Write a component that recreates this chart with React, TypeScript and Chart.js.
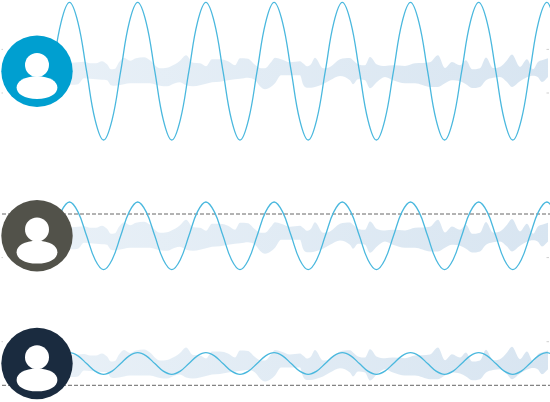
import React, { useEffect, useRef } from "react";
import { Chart, registerables } from "chart.js";

Chart.register(...registerables);

const bandX = [68,72,78,84,90,96,102,107,111,115,119,124,130,136,144,150,156,160,167,175,180,186,193,200,206,212,220,228,235,240,248,255,261,265,271,275,281,290,300,303,307,311,315,323,330,340,350,353,358,365,370,377,385,393,405,415,430,438,445,452,460,466,472,480,486,493,500,507,512,520,527,533,538,542,548];
const bandHigh = [8.5,8.5,9,9.5,8,8,10,7,2,2.5,9,13.5,10.5,13,14,11,5,3,3.5,7,10.5,16,8.5,8,5,12,12,10,6,13,12.5,6.5,3,3,9,13.5,12,9,10,8,5,7,13.5,3,4.3,12,13.3,11,7,6,14.3,6.7,5.3,6,5.3,8,9,16,3.3,9.3,6,11,2,3,13.7,3.3,4.3,11,16.7,4.3,12,2,9.3,11,13];
const bandLow = [-13.5,-13.5,-13,-7,-7.5,-8,-8.5,-9,-14,-14.5,-14,-13,-12,-12,-12,-12,-13.5,-14.5,-15,-12,-11,-14,-15,-14,-12.5,-11,-10.5,-9,-8,-7.5,-6.5,-9,-16,-18,-15.5,-12,-4,-4,-4,-13,-16.5,-16.5,-15.7,-13,-9,-4.7,-9,-13,-8,-9,-17,-10.7,-5.7,-9,-12,-12,-15.7,-15.7,-12,-9,-10,-13,-16.7,-15.7,-9,-6.5,-5.7,-10.7,-15.7,-10,-6,-4.5,-6,-10.7,-5.7];

const waveX = [52.5,61,69.5,78,86.6,95.1,103.6,112.1,120.7,129.2,137.7,146.2,154.8,163.3,171.8,180.3,188.9,197.4,205.9,214.4,223,231.5,240,248.5,257.1,265.6,274.1,282.6,291.2,299.7,308.2,316.7,325.3,333.8,342.3,350.8,359.4,367.9,376.4,384.9,393.5,402,410.5,419,427.6,436.1,444.6,453.1,461.7,470.2,478.7,487.2,495.8,504.3,512.8,521.3,529.9,538.4,546.9,555.4];
const waveLarge = [0,48.6,68.8,48.6,0,-48.6,-68.8,-48.6,0,48.6,68.8,48.6,0,-48.6,-68.8,-48.6,0,48.6,68.8,48.6,0,-48.6,-68.8,-48.6,0,48.6,68.8,48.6,0,-48.6,-68.8,-48.6,0,48.6,68.8,48.6,0,-48.6,-68.8,-48.6,0,48.6,68.8,48.6,0,-48.6,-68.8,-48.6,0,48.6,68.8,48.6,0,-48.6,-68.8,-48.6,0,48.6,68.8,48.6];
const waveMedium = [0,23.9,33.8,23.9,0,-23.9,-33.8,-23.9,0,23.9,33.8,23.9,0,-23.9,-33.8,-23.9,0,23.9,33.8,23.9,0,-23.9,-33.8,-23.9,0,23.9,33.8,23.9,0,-23.9,-33.8,-23.9,0,23.9,33.8,23.9,0,-23.9,-33.8,-23.9,0,23.9,33.8,23.9,0,-23.9,-33.8,-23.9,0,23.9,33.8,23.9,0,-23.9,-33.8,-23.9,0,23.9,33.8,23.9];
const waveSmall = [0,7.6,10.8,7.6,0,-7.6,-10.8,-7.6,0,7.6,10.8,7.6,0,-7.6,-10.8,-7.6,0,7.6,10.8,7.6,0,-7.6,-10.8,-7.6,0,7.6,10.8,7.6,0,-7.6,-10.8,-7.6,0,7.6,10.8,7.6,0,-7.6,-10.8,-7.6,0,7.6,10.8,7.6,0,-7.6,-10.8,-7.6,0,7.6,10.8,7.6,0,-7.6,-10.8,-7.6,0,7.6,10.8,7.6];

const threshold = 21.8;
const panels = ["yA", "yB", "yC"];
const panelCentres = [71.2, 235.8, 363.5];
const panelWaves = [waveLarge, waveMedium, waveSmall];
const panelColours = ["#009fd0", "#52524a", "#1a2b3f"];
// Which threshold of each panel is a full dashed rule: +1 upper, -1 lower, 0 none
const dashedSide = [0, 1, -1];

const WAVE = "#4ab8de";
const DASH = "#666666";
const STUB = "#cfcfcf";

const pts = (xs: number[], ys: number[]) => xs.map((x, i) => ({ x, y: ys[i] }));

const avatars = {
  id: "avatars",
  afterDatasetsDraw(chart: any) {
    const { ctx } = chart;
    panels.forEach((id, i) => {
      const cy = chart.scales[id].getPixelForValue(0);
      const cx = 37;
      ctx.save();
      ctx.fillStyle = panelColours[i];
      ctx.beginPath();
      ctx.arc(cx, cy, 35.7, 0, Math.PI * 2);
      ctx.fill();
      ctx.fillStyle = "#ffffff";
      ctx.beginPath();
      ctx.arc(cx, cy - 6.2, 12, 0, Math.PI * 2);
      ctx.fill();
      // shoulders: slightly fuller than an ellipse
      const by = cy + 16.4;
      const rx = 20.4;
      const ry = 11.4;
      const kx = 0.62 * rx;
      const ky = 0.56 * ry;
      ctx.beginPath();
      ctx.moveTo(cx - rx, by);
      ctx.bezierCurveTo(cx - rx, by - ky, cx - kx, by - ry, cx, by - ry);
      ctx.bezierCurveTo(cx + kx, by - ry, cx + rx, by - ky, cx + rx, by);
      ctx.bezierCurveTo(cx + rx, by + ky, cx + kx, by + ry, cx, by + ry);
      ctx.bezierCurveTo(cx - kx, by + ry, cx - rx, by + ky, cx - rx, by);
      ctx.fill();
      ctx.restore();
    });
  },
};

export default function App() {
  const ref = useRef<HTMLCanvasElement | null>(null);

  useEffect(() => {
    const canvas = ref.current!;
    const ctx = canvas.getContext("2d")!;
    const gradient = ctx.createLinearGradient(70, 0, 550, 0);
    gradient.addColorStop(0, "#e8f0f7");
    gradient.addColorStop(1, "#d8e5f1");

    const wave = panels.map((id, i) => ({
      data: pts(waveX, panelWaves[i]),
      yAxisID: id,
      borderColor: WAVE,
      borderWidth: 1.3,
      tension: 0.4,
      fill: false,
    }));

    const rules: any[] = [];
    panels.forEach((id, i) => {
      [1, -1].forEach((side) => {
        const v = side * threshold;
        if (dashedSide[i] === side) {
          rules.push({
            data: [{ x: 2, y: v }, { x: 550, y: v }],
            yAxisID: id,
            borderColor: DASH,
            borderWidth: 1,
            borderDash: [4, 2],
            fill: false,
          });
        } else {
          [[1.5, 3], [546.5, 549]].forEach(([a, b]) =>
            rules.push({
              data: [{ x: a, y: v }, { x: b, y: v }],
              yAxisID: id,
              borderColor: STUB,
              borderWidth: 1,
              fill: false,
            })
          );
        }
      });
    });

    const bands: any[] = [];
    panels.forEach((id) => {
      bands.push({
        data: pts(bandX, bandHigh),
        yAxisID: id,
        borderWidth: 0,
        borderColor: "transparent",
        backgroundColor: gradient,
        cubicInterpolationMode: "monotone",
        fill: "+1",
      });
      bands.push({
        data: pts(bandX, bandLow),
        yAxisID: id,
        borderWidth: 0,
        borderColor: "transparent",
        cubicInterpolationMode: "monotone",
        fill: false,
      });
    });

    const yScales: any = {};
    panels.forEach((id, i) => {
      yScales[id] = {
        type: "linear",
        display: false,
        max: panelCentres[i],
        min: panelCentres[i] - 402,
      };
    });

    const chart = new Chart(canvas, {
      type: "line",
      data: { datasets: [...wave, ...rules, ...bands] },
      options: {
        animation: false,
        responsive: false,
        parsing: false,
        normalized: true,
        layout: { padding: 0 },
        elements: { point: { radius: 0 } },
        plugins: { legend: { display: false }, tooltip: { enabled: false } },
        scales: {
          x: { type: "linear", display: false, min: 0, max: 550 },
          ...yScales,
        },
      } as any,
      plugins: [avatars],
    });
    return () => chart.destroy();
  }, []);

  return (
    <div style={{ width: 550, height: 402 }}>
      <style>{"body{margin:0;background:#fff}"}</style>
      <canvas ref={ref} width={550} height={402} style={{ display: "block" }} />
    </div>
  );
}
